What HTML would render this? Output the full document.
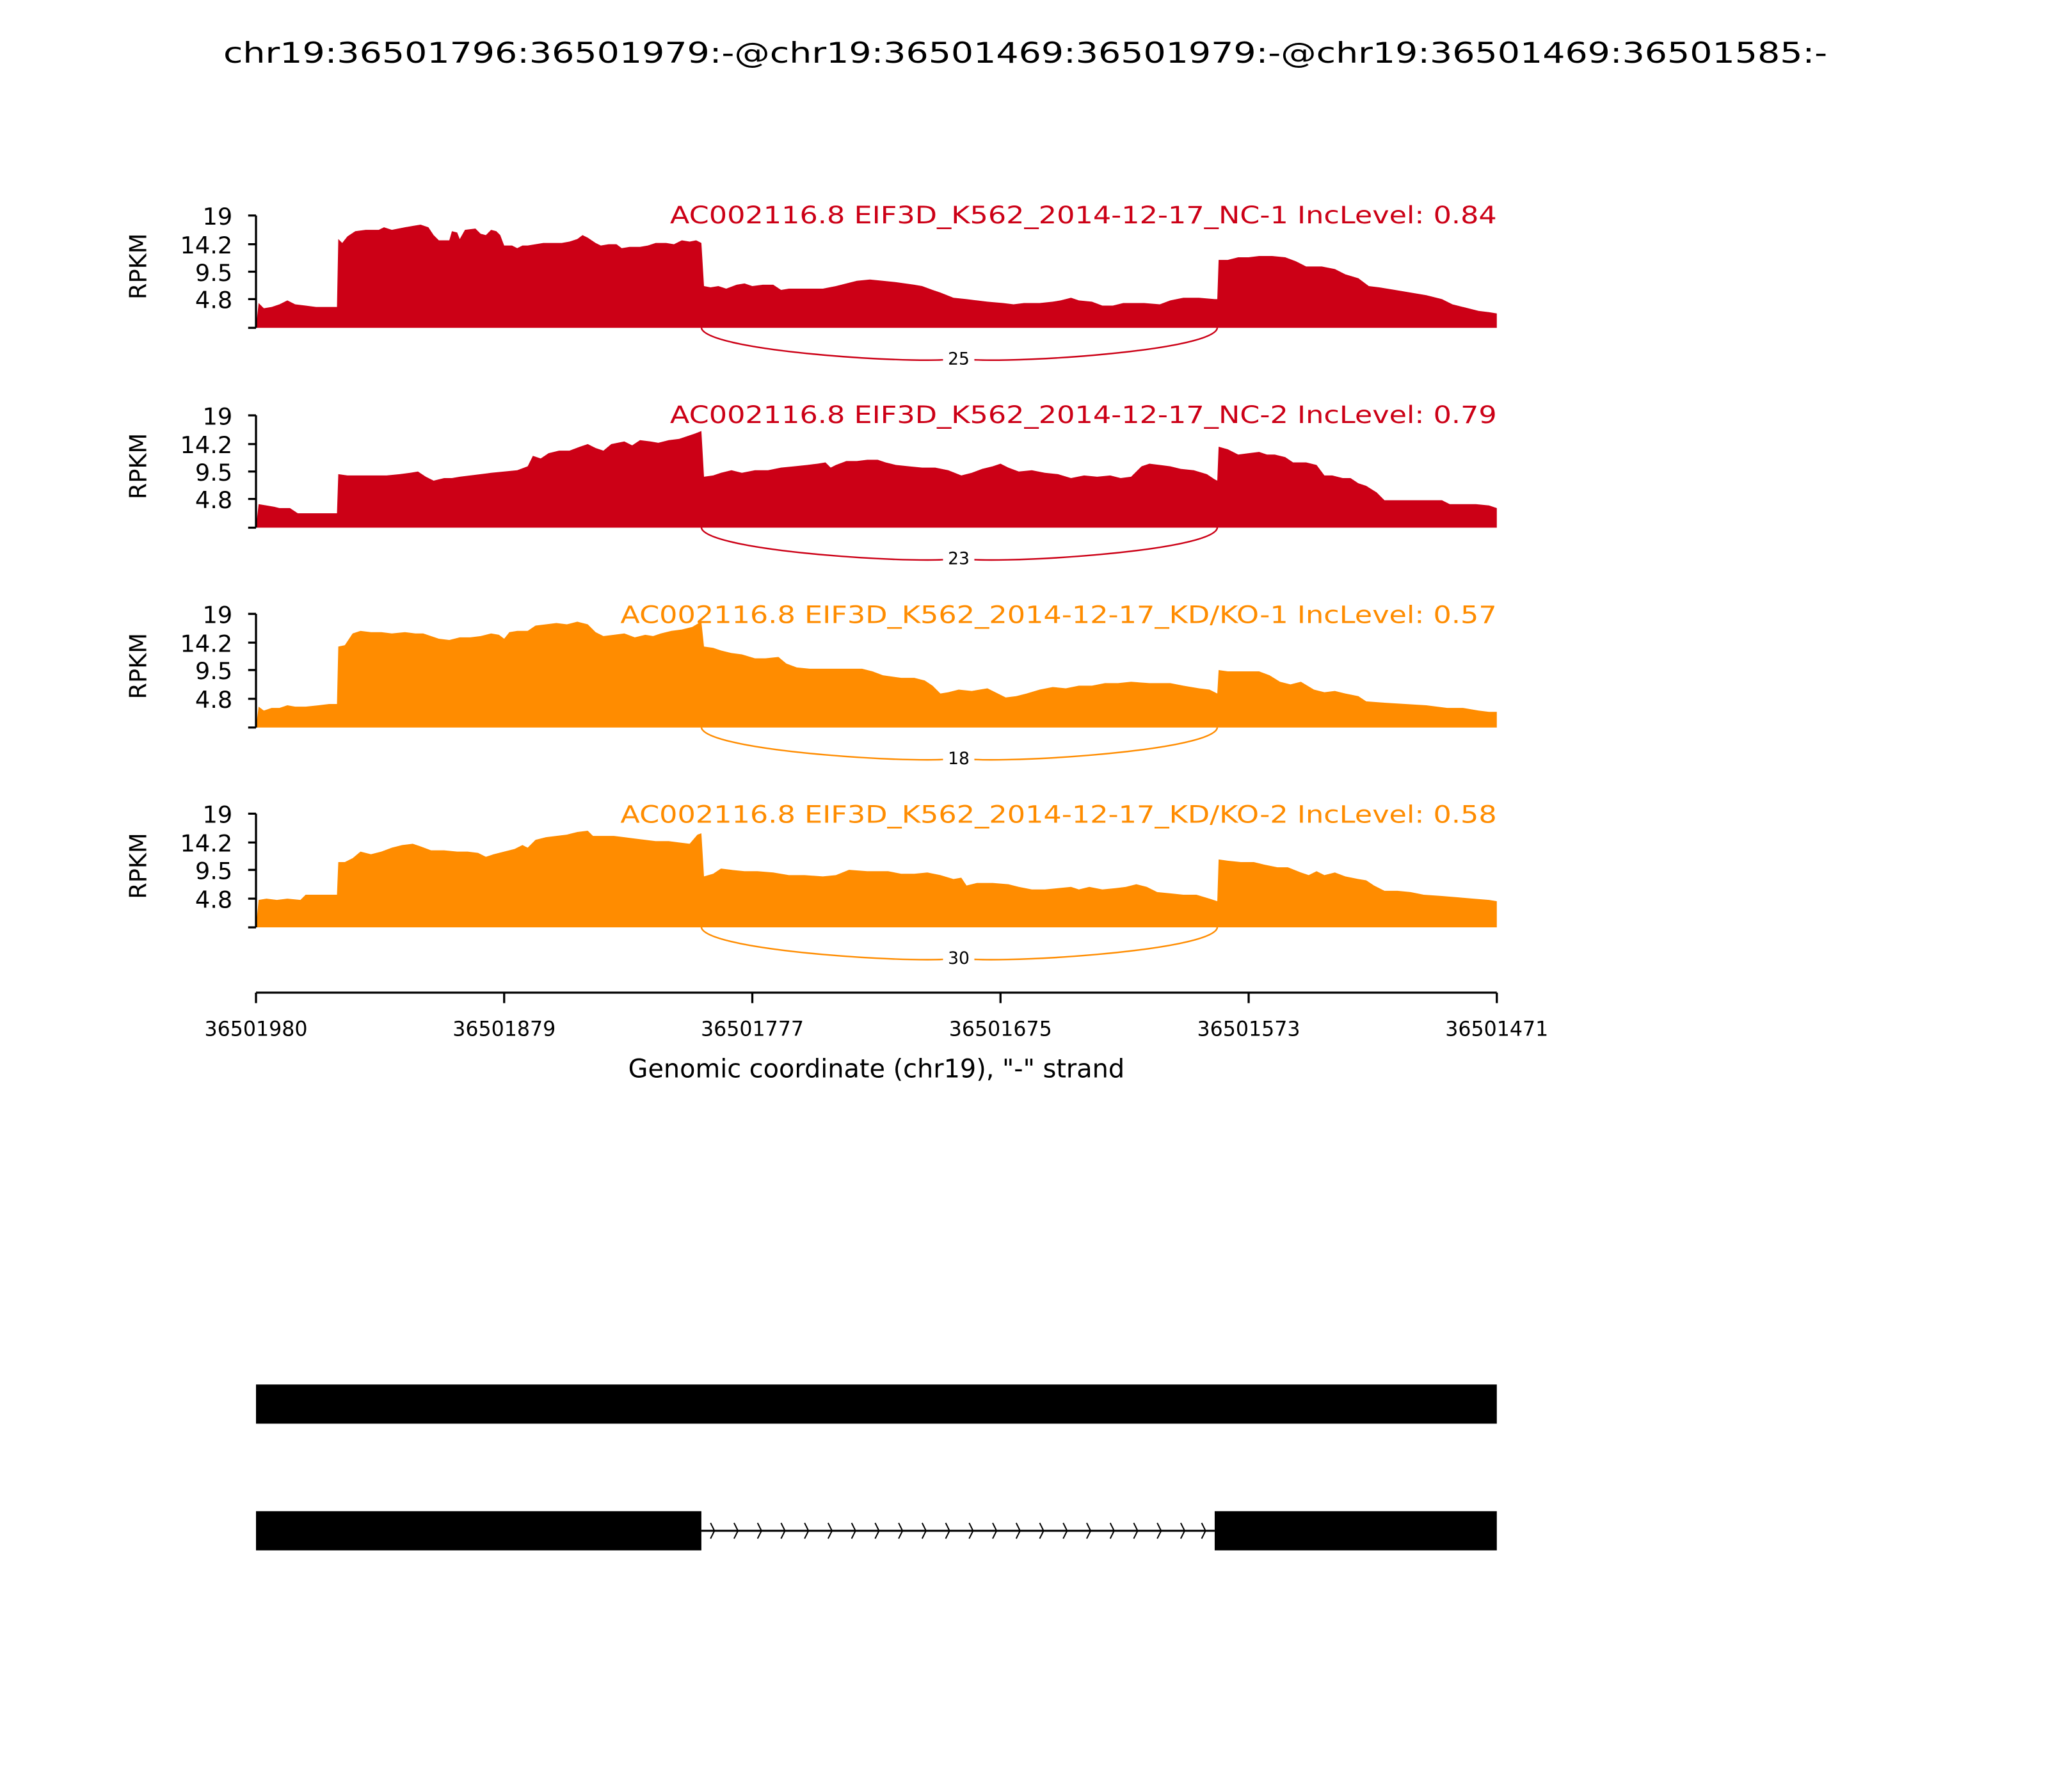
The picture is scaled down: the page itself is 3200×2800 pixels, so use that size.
<!DOCTYPE html>
<html><head><meta charset="utf-8"><style>html,body{margin:0;padding:0;background:#fff}svg{display:block}text{font-family:"DejaVu Sans","Liberation Sans",sans-serif}</style></head>
<body>
<svg width="3200" height="2800" viewBox="0 0 1568 1372" xmlns="http://www.w3.org/2000/svg">
<rect width="1568" height="1372" fill="#fff"/>
<text x="785" y="48" font-size="22" text-anchor="middle" textLength="1228" lengthAdjust="spacingAndGlyphs">chr19:36501796:36501979:-@chr19:36501469:36501979:-@chr19:36501469:36501585:-</text>

<g>
<polygon fill="#cc0016" points="196,251 198,232 202,236 208,235 214,233 220,230 226,233 234,234 242,235 252,235 258,235 259,183 262,186 266,181 272,177 280,176 290,176 294,174 300,176 310,174 316,173 322,172 328,174 332,180 336,184 344,184 346,177 350,178 352,183 356,176 364,175 368,179 372,180 376,176 380,177 383,180 386,188 392,188 396,190 400,188 404,188 410,187 416,186 420,186 430,186 436,185 442,183 446,180 450,182 456,186 460,188 466,187 472,187 476,190 482,189 490,189 496,188 502,186 510,186 516,187 522,184 528,185 533,184 537,186 539,219 544,220 550,219 556,221 564,218 570,217 576,219 584,218 592,218 598,222 604,221 612,221 630,221 640,219 648,217 656,215 666,214 676,215 686,216 700,218 706,219 714,222 720,224 730,228 740,229 748,230 756,231 768,232 776,233 784,232 796,232 806,231 812,230 820,228 826,230 836,231 844,234 852,234 860,232 876,232 888,233 896,230 906,228 918,228 930,229 932,229 933,199 940,199 948,197 956,197 964,196 974,196 984,197 992,200 1000,204 1012,204 1022,206 1030,210 1040,213 1048,219 1056,220 1068,222 1080,224 1092,226 1104,229 1112,233 1120,235 1132,238 1140,239 1146,240 1146,251"/>
<path d="M537,251 C540,270 720,280 734,274 M734,274 C750,280 930,270 932,251" fill="none" stroke="#cc0016" stroke-width="1.2"/>
<rect x="722" y="266" width="24" height="16" fill="#fff"/>
<text x="734" y="279" font-size="13" text-anchor="middle">25</text>
<text x="1146" y="171" font-size="18.5" text-anchor="end" fill="#cc0016" textLength="633" lengthAdjust="spacingAndGlyphs">AC002116.8 EIF3D_K562_2014-12-17_NC-1 IncLevel: 0.84</text>
</g>

<g>
<polygon fill="#cc0016" points="196,404 198,386 204,387 210,388 214,389 222,389 228,393 240,393 252,393 258,393 259,363 266,364 280,364 296,364 306,363 314,362 320,361 326,365 332,368 340,366 346,366 352,365 360,364 368,363 376,362 386,361 396,360 404,357 408,349 414,351 420,347 428,345 436,345 444,342 450,340 456,343 462,345 468,340 478,338 484,341 490,337 498,338 504,339 512,337 520,336 526,334 532,332 537,330 539,365 546,364 552,362 560,360 568,362 578,360 588,360 598,358 608,357 618,356 626,355 632,354 636,358 640,356 648,353 656,353 664,352 672,352 678,354 686,356 696,357 706,358 716,358 726,360 736,364 744,362 752,359 760,357 766,355 772,358 780,361 790,360 800,362 810,363 820,366 830,364 840,365 850,364 858,366 866,365 874,357 880,355 888,356 896,357 904,359 914,360 924,363 930,367 932,368 933,342 940,344 948,348 956,347 964,346 970,348 976,348 984,350 990,354 1000,354 1008,356 1014,364 1020,364 1028,366 1034,366 1040,370 1046,372 1054,377 1060,383 1070,383 1090,383 1104,383 1110,386 1130,386 1140,387 1146,389 1146,404"/>
<path d="M537,404 C540,423 720,433 734,427 M734,427 C750,433 930,423 932,404" fill="none" stroke="#cc0016" stroke-width="1.2"/>
<rect x="722" y="419" width="24" height="16" fill="#fff"/>
<text x="734" y="432" font-size="13" text-anchor="middle">23</text>
<text x="1146" y="324" font-size="18.5" text-anchor="end" fill="#cc0016" textLength="633" lengthAdjust="spacingAndGlyphs">AC002116.8 EIF3D_K562_2014-12-17_NC-2 IncLevel: 0.79</text>
</g>

<g>
<polygon fill="#ff8c00" points="196,557 198,541 202,544 208,542 214,542 220,540 226,541 234,541 244,540 252,539 258,539 259,495 264,494 270,485 276,483 284,484 292,484 300,485 310,484 318,485 324,485 330,487 336,489 344,490 352,488 360,488 368,487 376,485 382,486 386,489 390,484 396,483 404,483 410,479 418,478 426,477 434,478 442,476 450,478 456,484 462,487 470,486 478,485 486,488 494,486 500,487 506,485 514,483 522,482 530,480 535,477 537,476 539,495 546,496 552,498 560,500 568,501 578,504 586,504 596,503 602,508 610,511 620,512 640,512 660,512 668,514 676,517 690,519 700,519 708,521 714,525 720,531 726,530 734,528 744,529 756,527 764,531 770,534 778,533 786,531 796,528 806,526 816,527 826,525 836,525 846,523 856,523 866,522 880,523 896,523 906,525 918,527 926,528 932,531 933,513 940,514 950,514 964,514 972,517 980,522 988,524 996,522 1006,528 1014,530 1022,529 1030,531 1040,533 1046,537 1060,538 1076,539 1092,540 1108,542 1120,542 1132,544 1140,545 1146,545 1146,557"/>
<path d="M537,557 C540,576 720,586 734,580 M734,580 C750,586 930,576 932,557" fill="none" stroke="#ff8c00" stroke-width="1.2"/>
<rect x="722" y="572" width="24" height="16" fill="#fff"/>
<text x="734" y="585" font-size="13" text-anchor="middle">18</text>
<text x="1146" y="477" font-size="18.5" text-anchor="end" fill="#ff8c00" textLength="671" lengthAdjust="spacingAndGlyphs">AC002116.8 EIF3D_K562_2014-12-17_KD/KO-1 IncLevel: 0.57</text>
</g>

<g>
<polygon fill="#ff8c00" points="196,710 198,689 204,688 212,689 220,688 230,689 234,685 244,685 252,685 258,685 259,660 264,660 270,657 276,652 284,654 292,652 300,649 308,647 316,646 322,648 330,651 340,651 350,652 358,652 366,653 372,656 378,654 386,652 394,650 400,647 404,649 410,643 418,641 426,640 434,639 442,637 450,636 454,640 462,640 470,640 478,641 486,642 494,643 502,644 512,644 520,645 528,646 534,639 537,638 539,671 546,669 552,665 560,666 570,667 580,667 592,668 604,670 616,670 630,671 640,670 650,666 664,667 680,667 690,669 700,669 710,668 720,670 730,673 736,672 740,678 748,676 760,676 772,677 780,679 790,681 800,681 810,680 820,679 826,681 834,679 844,681 854,680 862,679 870,677 878,679 886,683 896,684 906,685 916,685 926,688 932,690 933,658 940,659 950,660 960,660 968,662 978,664 986,664 996,668 1002,670 1008,667 1014,670 1022,668 1030,671 1040,673 1046,674 1052,678 1060,682 1070,682 1080,683 1090,685 1104,686 1116,687 1128,688 1140,689 1146,690 1146,710"/>
<path d="M537,710 C540,729 720,739 734,733 M734,733 C750,739 930,729 932,710" fill="none" stroke="#ff8c00" stroke-width="1.2"/>
<rect x="722" y="725" width="24" height="16" fill="#fff"/>
<text x="734" y="738" font-size="13" text-anchor="middle">30</text>
<text x="1146" y="630" font-size="18.5" text-anchor="end" fill="#ff8c00" textLength="671" lengthAdjust="spacingAndGlyphs">AC002116.8 EIF3D_K562_2014-12-17_KD/KO-2 IncLevel: 0.58</text>
</g>

<g stroke="#000" stroke-width="1.6" fill="none">
<path d="M196,165V251 M190,165H196 M190,187H196 M190,208H196 M190,229H196 M190,251H196"/>
<path d="M196,318V404 M190,318H196 M190,340H196 M190,361H196 M190,382H196 M190,404H196"/>
<path d="M196,470V557 M190,470H196 M190,492H196 M190,513H196 M190,535H196 M190,557H196"/>
<path d="M196,623V710 M190,623H196 M190,645H196 M190,666H196 M190,688H196 M190,710H196"/>
</g>
<g font-size="18" text-anchor="end">
<text x="178" y="172">19</text><text x="178" y="194">14.2</text><text x="178" y="215">9.5</text><text x="178" y="236">4.8</text>
<text x="178" y="325">19</text><text x="178" y="347">14.2</text><text x="178" y="368">9.5</text><text x="178" y="389">4.8</text>
<text x="178" y="477">19</text><text x="178" y="499">14.2</text><text x="178" y="520">9.5</text><text x="178" y="542">4.8</text>
<text x="178" y="630">19</text><text x="178" y="652">14.2</text><text x="178" y="673">9.5</text><text x="178" y="695">4.8</text>
</g>
<g font-size="18" text-anchor="middle">
<text transform="translate(112,204) rotate(-90)">RPKM</text>
<text transform="translate(112,357) rotate(-90)">RPKM</text>
<text transform="translate(112,510) rotate(-90)">RPKM</text>
<text transform="translate(112,663) rotate(-90)">RPKM</text>
</g>

<g stroke="#000" stroke-width="1.6" fill="none">
<path d="M196,760H1146 M196,760V768 M386,760V768 M576,760V768 M766,760V768 M956,760V768 M1146,760V768"/>
</g>
<g font-size="15.5" text-anchor="middle">
<text x="196" y="793">36501980</text><text x="386" y="793">36501879</text><text x="576" y="793">36501777</text>
<text x="766" y="793">36501675</text><text x="956" y="793">36501573</text><text x="1146" y="793">36501471</text>
</g>
<text x="671" y="825" font-size="19.5" text-anchor="middle">Genomic coordinate (chr19), "-" strand</text>

<rect x="196" y="1060" width="950" height="30" fill="#000"/>
<rect x="196" y="1157" width="341" height="30" fill="#000"/>
<rect x="930" y="1157" width="216" height="30" fill="#000"/>
<line x1="537" y1="1172" x2="930" y2="1172" stroke="#000" stroke-width="1.5"/>
<g stroke="#000" stroke-width="1" fill="none">
<path d="M544,1166l3,6l-3,6 M562,1166l3,6l-3,6 M580,1166l3,6l-3,6 M598,1166l3,6l-3,6 M616,1166l3,6l-3,6 M634,1166l3,6l-3,6 M652,1166l3,6l-3,6 M670,1166l3,6l-3,6 M688,1166l3,6l-3,6 M706,1166l3,6l-3,6 M724,1166l3,6l-3,6 M742,1166l3,6l-3,6 M760,1166l3,6l-3,6 M778,1166l3,6l-3,6 M796,1166l3,6l-3,6 M814,1166l3,6l-3,6 M832,1166l3,6l-3,6 M850,1166l3,6l-3,6 M868,1166l3,6l-3,6 M886,1166l3,6l-3,6 M904,1166l3,6l-3,6 M920,1166l3,6l-3,6"/>
</g>
</svg>
</body></html>
